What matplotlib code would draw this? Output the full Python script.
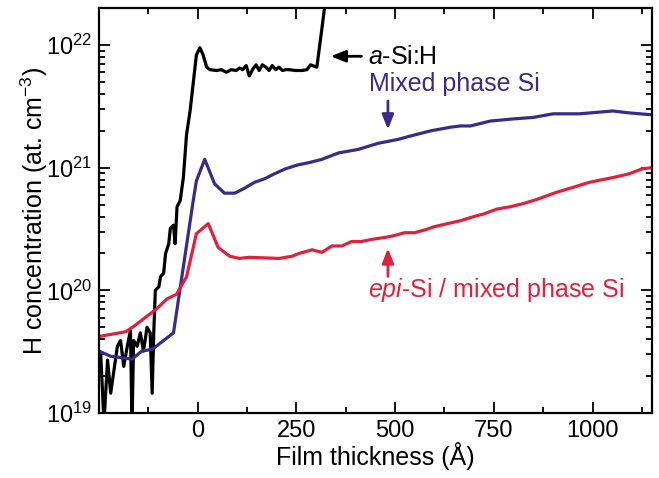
import numpy as np
import matplotlib
matplotlib.use('Agg')
import matplotlib.pyplot as plt
from matplotlib.ticker import FixedLocator, LogLocator, NullFormatter

plt.rcParams['font.family'] = ['Liberation Sans', 'DejaVu Sans']
plt.rcParams['mathtext.fontset'] = 'custom'
plt.rcParams['mathtext.rm'] = 'Liberation Sans'
plt.rcParams['mathtext.it'] = 'Liberation Sans:italic'

# a-Si:H profile (thickness in Angstrom, H in at./cm3)
asi_x = [-245, -237, -228, -220, -212, -203, -195, -187, -178, -170,
         -166, -162, -153, -145, -137, -128, -120, -115, -111, -107,
         -98, -94, -86, -81, -73, -69, -61, -57, -52, -44,
         -36, -28, -19, -3, 6, 14, 23, 31, 48, 60,
         73, 85, 98, 106, 114, 123, 131, 139, 148, 156,
         164, 173, 181, 189, 198, 206, 215, 223, 231, 248,
         265, 277, 286, 302, 315, 323, 330]
asi_h = [2.9e19, 8.3e18, 2.7e19, 1.45e19, 2.2e19, 3.5e19, 3.9e19, 2.4e19, 3.5e19, 4.7e19,
         7.8e18, 3.9e19, 3.5e19, 4.5e19, 3.2e19, 5.0e19, 4.5e19, 1.45e19, 4.5e19, 1.0e20,
         1.07e20, 1.29e20, 1.38e20, 2.0e20, 2.4e20, 3.2e20, 3.4e20, 2.4e20, 4.8e20, 5.4e20,
         8.3e20, 1.86e21, 2.9e21, 8.3e21, 9.5e21, 8.3e21, 6.6e21, 6.3e21, 6.2e21, 6.3e21,
         6.0e21, 6.3e21, 6.2e21, 6.5e21, 6.3e21, 6.8e21, 5.6e21, 6.3e21, 6.9e21, 6.2e21,
         6.9e21, 6.6e21, 6.2e21, 6.8e21, 6.3e21, 6.6e21, 6.2e21, 6.3e21, 6.3e21, 6.2e21,
         6.2e21, 6.3e21, 6.9e21, 6.6e21, 1.38e22, 2.2e22, 4.0e22]

# mixed phase Si
mix_x = [-250, -220, -166, -141, -115, -86, -61, -11, -3, 18,
         43, 68, 94, 119, 144, 169, 194, 223, 252, 282,
         315, 357, 407, 457, 507, 541, 591, 641, 666, 691,
         741, 800, 850, 900, 967, 1051, 1092, 1150]
mix_h = [3.2e19, 2.9e19, 2.75e19, 3.2e19, 3.3e19, 3.9e19, 4.5e19, 5.4e20, 7.8e20, 1.17e21,
         7.4e20, 6.2e20, 6.2e20, 6.8e20, 7.6e20, 8.1e20, 8.9e20, 9.8e20, 1.05e21, 1.10e21,
         1.17e21, 1.32e21, 1.41e21, 1.58e21, 1.70e21, 1.82e21, 2.0e21, 2.14e21, 2.19e21, 2.19e21,
         2.4e21, 2.5e21, 2.57e21, 2.75e21, 2.75e21, 2.9e21, 2.8e21, 2.7e21]

# epi-Si / mixed phase Si
epi_x = [-250, -182, -161, -124, -103, -78, -53, -28, -3, 27,
         52, 81, 106, 131, 206, 240, 257, 290, 315, 340,
         365, 390, 415, 440, 474, 499, 524, 549, 574, 599,
         633, 666, 700, 725, 758, 791, 825, 858, 909, 950,
         992, 1051, 1092, 1126, 1150]
epi_h = [4.2e19, 4.6e19, 5.1e19, 6.3e19, 7.1e19, 8.5e19, 9.3e19, 1.29e20, 2.9e20, 3.5e20,
         2.24e20, 1.9e20, 1.82e20, 1.86e20, 1.82e20, 1.9e20, 2.0e20, 2.14e20, 2.04e20, 2.3e20,
         2.3e20, 2.5e20, 2.5e20, 2.6e20, 2.7e20, 2.8e20, 2.95e20, 2.95e20, 3.1e20, 3.3e20,
         3.5e20, 3.7e20, 4.0e20, 4.2e20, 4.6e20, 4.8e20, 5.1e20, 5.5e20, 6.3e20, 6.9e20,
         7.6e20, 8.3e20, 8.9e20, 9.8e20, 1.0e21]

x_ticks = [0, 250, 500, 750, 1000]
y_ticks = [1e19, 1e20, 1e21, 1e22]
y_labels = ['$10^{19}$', '$10^{20}$', '$10^{21}$', '$10^{22}$']

purple = '#3b2a8c'
red = '#e2203c'

fig = plt.figure(figsize=(6.59, 4.78), dpi=100)
ax = fig.add_axes([0.150, 0.136, 0.839, 0.847])

ax.plot(asi_x, asi_h, color='black', lw=2.3)
ax.plot(mix_x, mix_h, color=purple, lw=2.3)
ax.plot(epi_x, epi_h, color=red, lw=2.3)

ax.set_yscale('log')
ax.set_xlim(-250, 1150)
ax.set_ylim(1e19, 2e22)

ax.xaxis.set_major_locator(FixedLocator(x_ticks))
ax.xaxis.set_minor_locator(FixedLocator([-125, 125, 375, 625, 875, 1125]))
ax.set_yticks(y_ticks)
ax.set_yticklabels(y_labels)
ax.yaxis.set_minor_locator(LogLocator(base=10, subs=np.arange(2, 10)))
ax.yaxis.set_minor_formatter(NullFormatter())

ax.tick_params(which='both', direction='in', top=True, right=True, labelsize=17, width=1.3)
ax.tick_params(which='major', length=8, pad=5)
ax.tick_params(which='minor', length=4)
for s in ax.spines.values():
    s.set_linewidth(1.6)

ax.set_xlabel('Film thickness (Å)', fontsize=18, labelpad=0)
ax.set_ylabel('H concentration (at. cm$^{-3}$)', fontsize=18, labelpad=-3)

# annotations
head = '-|>,head_length=0.55,head_width=0.22'
ax.annotate('', xy=(337, 8.1e21), xytext=(415, 8.1e21),
            arrowprops=dict(arrowstyle=head, color='black', lw=2, mutation_scale=16,
                            shrinkA=0, shrinkB=0))
ax.text(432, 8.0e21, '$\\it{a}$-Si:H', fontsize=18, va='center', ha='left')

ax.annotate('', xy=(482, 2.05e21), xytext=(482, 3.5e21),
            arrowprops=dict(arrowstyle=head, color=purple, lw=2, mutation_scale=16,
                            shrinkA=0, shrinkB=0))
ax.text(435, 4.8e21, 'Mixed phase Si', fontsize=18, va='center', ha='left', color=purple)

ax.annotate('', xy=(482, 2.2e20), xytext=(482, 1.3e20),
            arrowprops=dict(arrowstyle=head, color=red, lw=2, mutation_scale=16,
                            shrinkA=0, shrinkB=0))
ax.text(432, 1.0e20, '$\\it{epi}$-Si / mixed phase Si', fontsize=18, va='center', ha='left', color=red)

fig.savefig('out.png', dpi=100)
